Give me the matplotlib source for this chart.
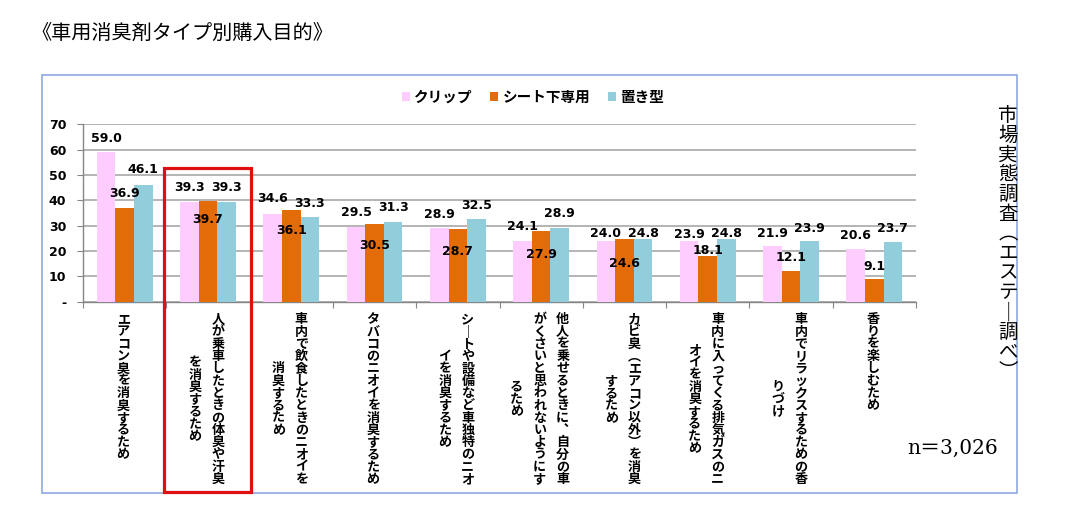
import matplotlib.pyplot as plt
plt.switch_backend('agg')
import numpy as np
from matplotlib.patches import Rectangle
from matplotlib.transforms import blended_transform_factory

plt.rcParams['font.family'] = ['Noto Sans CJK JP', 'DejaVu Sans']

# ---- data ----
categories = [
    ['エアコン臭を消臭するため'],
    ['人が乗車したときの体臭や汗臭', 'を消臭するため'],
    ['車内で飲食したときのニオイを', '消臭するため'],
    ['タバコのニオイを消臭するため'],
    ['シートや設備など車独特のニオ', 'イを消臭するため'],
    ['他人を乗せるときに、自分の車', 'がくさいと思われないようにす', 'るため'],
    ['カビ臭（エアコン以外）を消臭', 'するため'],
    ['車内に入ってくる排気ガスのニ', 'オイを消臭するため'],
    ['車内でリラックスするための香', 'りづけ'],
    ['香りを楽しむため'],
]
series_names = ['クリップ', 'シート下専用', '置き型']
clip_vals = [59.0, 39.3, 34.6, 29.5, 28.9, 24.1, 24.0, 23.9, 21.9, 20.6]
seat_vals = [36.9, 39.7, 36.1, 30.5, 28.7, 27.9, 24.6, 18.1, 12.1, 9.1]
oki_vals = [46.1, 39.3, 33.3, 31.3, 32.5, 28.9, 24.8, 24.8, 23.9, 23.7]
yticks = [0, 10, 20, 30, 40, 50, 60, 70]
ytick_labels = ['-', '10', '20', '30', '40', '50', '60', '70']
title = '《車用消臭剤タイプ別購入目的》'
source = '市場実態調査（エステー調べ）'
n_note = 'n＝3,026'

# ---- style ----
colors = ['#FFCCFF', '#E36C09', '#92CDDC']
# label offsets in pixels above bar top (negative = inside the bar)
label_dy = [
    [14, 15, 16, 14, 14, 14, 7, 7, 13, 14],
    [15, -18, -20, -21, -23, -24, -24, 5, 14, 12],
    [15, 15, 14, 15, 14, 15, 5, 5, 13, 13],
]
# vertical-writing forms
VFORM = {'ー': '｜', '（': '︵', '）': '︶', '、': '︑'}

W, H = 1067, 527
fig = plt.figure(figsize=(W / 100, H / 100), dpi=100)
ax = fig.add_axes([83 / W, 1 - 301.7 / H, 833 / W, (301.7 - 124.3) / H])

x = np.arange(len(categories))
bw = 0.223
series = [clip_vals, seat_vals, oki_vals]
bars = []
for k, vals in enumerate(series):
    b = ax.bar(x + (k - 1) * bw, vals, bw, color=colors[k], label=series_names[k], zorder=3)
    bars.append(b)
    for i, v in enumerate(vals):
        ax.annotate('%.1f' % v, xy=(x[i] + (k - 1) * bw, v), xytext=(0, label_dy[k][i]),
                    textcoords='offset pixels', ha='center', va='center',
                    fontsize=9, fontweight='bold', family='DejaVu Sans', zorder=5)

ax.set_xlim(-0.5, len(categories) - 0.5)
ax.set_ylim(0, 70)
ax.set_yticks(yticks)
ax.set_yticklabels(ytick_labels, family='DejaVu Sans', fontweight='bold', fontsize=9)
ax.set_xticks(np.arange(len(categories) + 1) - 0.5)
ax.set_xticklabels([])
ax.yaxis.grid(True, color='#A0A0A0', linewidth=1.1, zorder=0)
ax.set_axisbelow(True)
for s in ['top', 'right']:
    ax.spines[s].set_visible(False)
for s in ['left', 'bottom']:
    ax.spines[s].set_color('#868686')
    ax.spines[s].set_linewidth(1.0)
ax.tick_params(axis='both', direction='out', length=4, color='#868686', pad=8)

# category labels, written vertically (columns right to left)
em = 13.0
pitch = 12.3
col_gap = 23
top_off = 10.5
for i, cols in enumerate(categories):
    L = max(len(c) for c in cols)
    nc = len(cols)
    for j, col in enumerate(cols):
        dx = (nc - 1) / 2 * col_gap - j * col_gap - 1.5
        start = top_off + (L - len(col)) / 2 * pitch
        for k, ch in enumerate(col):
            cy = start + (k + 0.5) * pitch + 0.38 * em
            ax.annotate(VFORM.get(ch, ch), xy=(x[i], 0), xycoords=('data', 'axes fraction'),
                        xytext=(dx, -cy), textcoords='offset pixels',
                        ha='center', va='baseline', fontsize=9.4,
                        fontweight='bold', annotation_clip=False)

# source text on the right, vertical
em2 = 19.5
pitch2 = 19.7
for k, ch in enumerate(source):
    cy = 104 + (k + 0.5) * pitch2 + 0.38 * em2
    fig.text(1008 / W, 1 - cy / H, VFORM.get(ch, ch), ha='center', va='baseline', fontsize=14)

# title and note
fig.text(31 / W, 1 - 33 / H, title, ha='left', va='center', fontsize=14.5)
fig.text(998 / W, 1 - 448 / H, n_note, ha='right', va='center', fontsize=14.5,
         family=['DejaVu Serif', 'Noto Sans CJK JP'])

# legend
fig.legend(handles=bars, labels=series_names, loc='center', bbox_to_anchor=(533 / W, 1 - 97 / H),
           ncol=3, frameon=False, handlelength=0.55, handleheight=0.55, handletextpad=0.3,
           columnspacing=1.2, prop={'weight': 'bold', 'size': 10.5})

# outer frame
fig.patches.append(Rectangle((42 / W, 1 - 493 / H), (1017 - 42) / W, (493 - 75) / H,
                             transform=fig.transFigure, fill=False, edgecolor='#8EAADB',
                             linewidth=1.2))
# red highlight box around the second category
tr = blended_transform_factory(ax.transData, fig.transFigure)
fig.patches.append(Rectangle((0.472, 1 - 492 / H), 1.045, (492 - 168) / H, transform=tr,
                             fill=False, edgecolor='#E01010', linewidth=2.3, zorder=10))

plt.savefig('out.png', dpi=100)
plt.close()
